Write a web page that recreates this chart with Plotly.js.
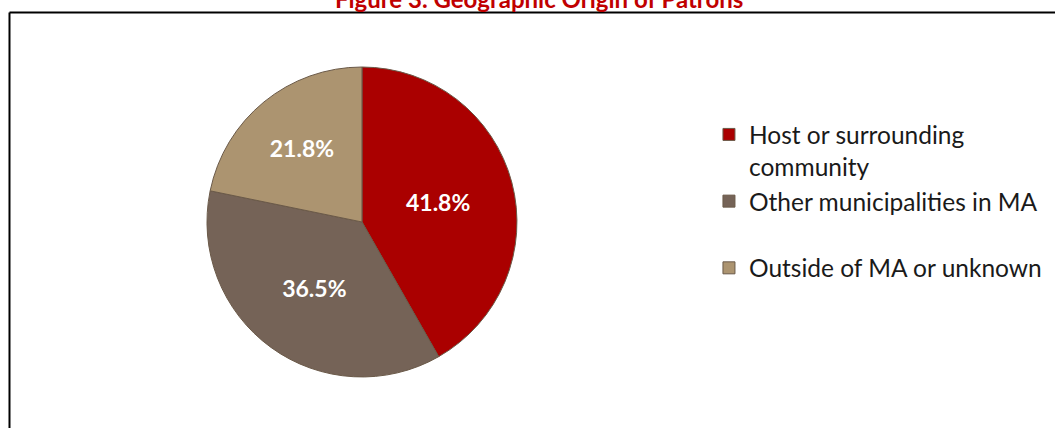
<!DOCTYPE html>
<html>
<head>
<meta charset="utf-8">
<script src="https://cdn.plot.ly/plotly-3.0.1.min.js"></script>
<style>
  html, body { margin: 0; padding: 0; background: white; }
  #chart { width: 1055px; height: 428px; }
</style>
</head>
<body>
<div id="chart"></div>
<script>
// Patron origin shares (percent)
const categories = ['Host or surrounding<br>community', 'Other municipalities in MA', 'Outside of MA or unknown'];
const shares = [41.8, 36.5, 21.8];
const sliceColors = ['#AA0000', '#756357', '#AC9470'];

const FONT = 'Lato, "Open Sans", sans-serif';

// second entry gets an empty trailing line so the last legend item sits lower, as in the source
const legendLabels = categories.map((c, i) => (i === 1 ? c + '<br>&nbsp;' : c));

const data = [{
  type: 'pie',
  labels: legendLabels,
  values: shares,
  sort: false,
  direction: 'clockwise',
  rotation: 0,
  marker: { colors: sliceColors, line: { color: '#6b5a49', width: 1 } },
  texttemplate: '%{percent:.1%}',
  textposition: 'inside',
  insidetextorientation: 'horizontal',
  textfont: { family: FONT, size: 23, color: 'white', weight: 'bold' },
  hoverinfo: 'label+percent',
  domain: { x: [0.1962, 0.4900], y: [0.1192, 0.8435] },
}];

const layout = {
  width: 1055,
  height: 428,
  margin: { t: 0, r: 0, b: 0, l: 0 },
  paper_bgcolor: 'white',
  plot_bgcolor: 'white',
  font: { family: FONT, color: '#1a1a1a' },
  title: {
    text: 'Figure 3. Geographic Origin of Patrons',
    font: { family: FONT, size: 24, color: '#C00000', weight: 'bold' },
    x: 0.511,
    xanchor: 'center',
    yref: 'container',
    y: 1.0,
    yanchor: 'middle',
  },
  showlegend: true,
  legend: {
    x: 0.672,
    xanchor: 'left',
    y: 0.7383,
    yanchor: 'top',
    valign: 'top',
    font: { family: FONT, size: 24.5, color: '#1a1a1a' },
    bgcolor: 'rgba(0,0,0,0)',
  },
  shapes: [
    // chart frame (left and top edges only are visible in the source)
    { type: 'line', xref: 'paper', yref: 'paper', x0: 0.0090, x1: 0.0090, y0: 0, y1: 0.9708,
      line: { color: 'black', width: 2 } },
    { type: 'line', xref: 'paper', yref: 'paper', x0: 0.0090, x1: 1, y0: 0.9708, y1: 0.9708,
      line: { color: 'black', width: 2 } },
  ],
};

Plotly.newPlot('chart', data, layout, { displayModeBar: false, staticPlot: true });
</script>
</body>
</html>
